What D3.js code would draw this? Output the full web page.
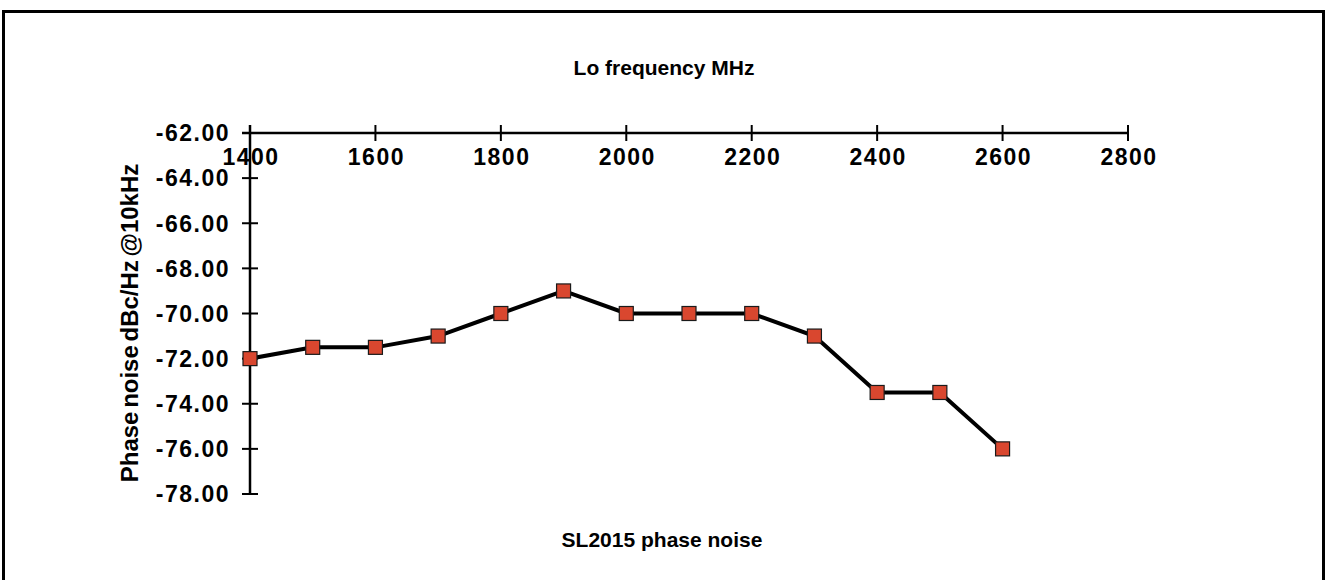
<!DOCTYPE html>
<html><head><meta charset="utf-8">
<script src="https://cdn.jsdelivr.net/npm/d3@7"></script>
<style>body{margin:0;background:#fff;}svg{display:block;}</style>
</head><body>
<script>
const freqs = [1400,1500,1600,1700,1800,1900,2000,2100,2200,2300,2400,2500,2600];
const noise = [-72.0,-71.5,-71.5,-71.0,-70.0,-69.0,-70.0,-70.0,-70.0,-71.0,-73.5,-73.5,-76.0];
const xTicks = [1400,1600,1800,2000,2200,2400,2600,2800];
const yTicks = [-62,-64,-66,-68,-70,-72,-74,-76,-78];
const topTitle = "Lo frequency MHz";
const bottomTitle = "SL2015 phase noise";
const yTitle = "Phase noise dBc/Hz @10kHz";

const W=1328,H=580;
const svg=d3.select("body").append("svg").attr("width",W).attr("height",H);
const font="'Liberation Sans', Arial, Helvetica, sans-serif";

svg.append("rect").attr("x",3.5).attr("y",11.5).attr("width",1320).attr("height",620)
  .attr("fill","none").attr("stroke","#000").attr("stroke-width",3);

const x=d3.scaleLinear().domain([1400,2800]).range([250,1128]);
const y=d3.scaleLinear().domain([-62,-78]).range([133,494]);

// x axis at top (y=-62)
const xg=svg.append("g").attr("transform",`translate(0,${y(-62)})`);
xg.append("line").attr("x1",x(1400)-8).attr("x2",x(2800)).attr("stroke","#000").attr("stroke-width",2.5);
xg.selectAll("line.t").data(xTicks).join("line").attr("class","t")
  .attr("x1",d=>x(d)).attr("x2",d=>x(d)).attr("y1",-8).attr("y2",8).attr("stroke","#000").attr("stroke-width",2);
xg.selectAll("text").data(xTicks).join("text")
  .attr("x",d=>x(d)+1).attr("y",32).attr("text-anchor","middle")
  .style("font-family",font).style("font-weight","bold").style("font-size","23px").style("letter-spacing","1.5px")
  .text(d=>d);

// y axis
const yg=svg.append("g").attr("transform",`translate(${x(1400)},0)`);
yg.append("line").attr("y1",y(-62)-8).attr("y2",y(-78)).attr("stroke","#000").attr("stroke-width",2.5);
yg.selectAll("line.t").data(yTicks).join("line").attr("class","t")
  .attr("y1",d=>y(d)).attr("y2",d=>y(d)).attr("x1",-8).attr("x2",8).attr("stroke","#000").attr("stroke-width",2);
yg.selectAll("text").data(yTicks).join("text")
  .attr("x",-20).attr("y",d=>y(d)).attr("dy","0.36em").attr("text-anchor","end")
  .style("font-family",font).style("font-weight","bold").style("font-size","23px").style("letter-spacing","1.5px")
  .text(d=>d.toFixed(2));

// line
const line=d3.line().x((d,i)=>x(freqs[i])).y(d=>y(d));
svg.append("path").datum(noise).attr("d",line).attr("fill","none").attr("stroke","#000").attr("stroke-width",4).attr("stroke-linejoin","miter");
svg.selectAll("rect.m").data(noise).join("rect").attr("class","m")
  .attr("x",(d,i)=>x(freqs[i])-7).attr("y",d=>y(d)-7).attr("width",14).attr("height",14)
  .attr("fill","#d9472f").attr("stroke","#1a1a1a").attr("stroke-width",1.2);

// titles
svg.append("text").attr("x",664).attr("y",75).attr("text-anchor","middle")
  .style("font-family",font).style("font-weight","bold").style("font-size","21px").text(topTitle);
svg.append("text").attr("x",662).attr("y",547).attr("text-anchor","middle")
  .style("font-family",font).style("font-weight","bold").style("font-size","21px").text(bottomTitle);
svg.append("text").attr("transform","translate(138,323) rotate(-90)").attr("text-anchor","middle")
  .style("font-family",font).style("font-weight","bold").style("font-size","24px").style("word-spacing","-3px").text(yTitle);
</script>
</body></html>
